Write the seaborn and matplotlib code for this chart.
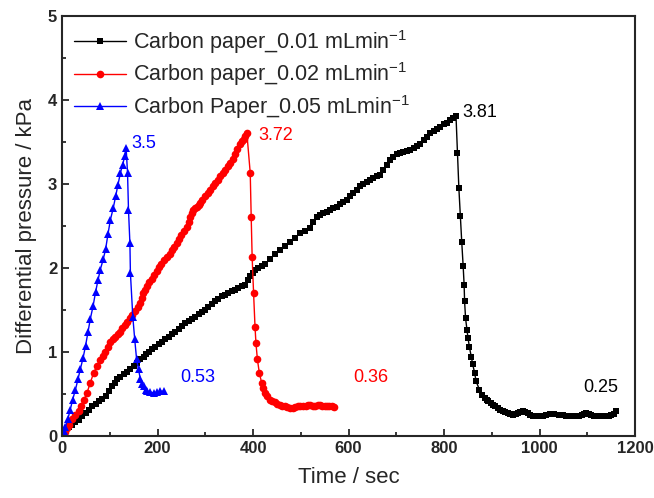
import matplotlib
matplotlib.use("Agg")
import matplotlib.pyplot as plt
import pandas as pd
import seaborn as sns

# Carbon paper 0.01 mL/min
t_001 = [0, 7, 14, 21, 28, 35, 42, 49, 56, 63, 70, 77, 84, 91, 98, 105, 110, 115, 122, 129,
         136, 143, 150, 157, 164, 171, 176, 181, 188, 195, 202, 209, 216, 223, 230, 237,
         244, 251, 258, 265, 272, 279, 286, 293, 300, 306, 313, 320, 327, 334, 341, 348,
         355, 362, 369, 376, 383, 389, 394, 399, 404, 411, 418, 425, 436, 446, 457, 467,
         477, 488, 498, 508, 519, 526, 533, 540, 547, 554, 561, 568, 575, 582, 589, 596,
         603, 610, 617, 624, 631, 638, 645, 652, 659, 666, 673, 680, 687, 694, 701, 708,
         715, 722, 729, 736, 743, 750, 757, 764, 771, 778, 785, 792, 799, 806, 812, 818,
         825, 828, 831, 834, 837, 840, 842, 843, 845, 848, 850, 853, 857, 860, 864, 867,
         874, 880, 885, 889, 893, 898, 902, 907, 912, 918, 923, 928, 934, 939, 944, 950,
         955, 960, 965, 970, 975, 980, 986, 993, 1000, 1007, 1014, 1022, 1030, 1040, 1049,
         1056, 1063, 1070, 1077, 1082, 1088, 1093, 1098, 1103, 1108, 1114, 1119, 1125,
         1130, 1135, 1140, 1145, 1150, 1156, 1161]
p_001 = [0, 0.07, 0.10, 0.13, 0.16, 0.19, 0.23, 0.27, 0.31, 0.35, 0.38, 0.41, 0.44, 0.47,
         0.53, 0.59, 0.63, 0.67, 0.70, 0.73, 0.76, 0.79, 0.83, 0.87, 0.91, 0.94, 0.97, 1.00,
         1.03, 1.06, 1.09, 1.12, 1.15, 1.18, 1.21, 1.24, 1.27, 1.31, 1.34, 1.37, 1.39, 1.42,
         1.45, 1.47, 1.50, 1.53, 1.57, 1.60, 1.63, 1.66, 1.68, 1.70, 1.72, 1.74, 1.76, 1.78,
         1.80, 1.85, 1.90, 1.94, 1.98, 2.00, 2.02, 2.04, 2.11, 2.16, 2.21, 2.26, 2.31, 2.36,
         2.41, 2.44, 2.47, 2.54, 2.61, 2.63, 2.65, 2.67, 2.69, 2.71, 2.73, 2.76, 2.78, 2.81,
         2.85, 2.89, 2.93, 2.97, 3.00, 3.02, 3.05, 3.07, 3.09, 3.11, 3.17, 3.23, 3.29, 3.32,
         3.35, 3.37, 3.38, 3.39, 3.40, 3.43, 3.45, 3.48, 3.52, 3.56, 3.60, 3.63, 3.65, 3.68,
         3.71, 3.73, 3.76, 3.78, 3.81, 3.37, 2.95, 2.62, 2.31, 2.02, 1.80, 1.60, 1.40, 1.26,
         1.17, 1.06, 0.94, 0.85, 0.75, 0.65, 0.55, 0.49, 0.45, 0.43, 0.41, 0.39, 0.37, 0.35,
         0.33, 0.31, 0.29, 0.28, 0.27, 0.26, 0.25, 0.26, 0.27, 0.28, 0.29, 0.28, 0.27, 0.25,
         0.23, 0.23, 0.24, 0.24, 0.25, 0.26, 0.26, 0.25, 0.25, 0.24, 0.24, 0.23, 0.23, 0.24,
         0.25, 0.26, 0.27, 0.26, 0.25, 0.24, 0.23, 0.23, 0.24, 0.23, 0.23, 0.24, 0.25, 0.26,
         0.29]

# Carbon paper 0.02 mL/min
t_002 = [0, 5, 10, 15, 21, 28, 35, 40, 45, 52, 59, 66, 73, 80, 85, 90, 96, 101, 106, 111,
         116, 121, 126, 131, 136, 142, 147, 152, 158, 163, 167, 170, 174, 177, 183, 188,
         193, 198, 203, 208, 214, 219, 225, 230, 235, 240, 245, 250, 256, 261, 265, 268,
         272, 275, 279, 282, 286, 289, 294, 300, 305, 310, 315, 320, 326, 331, 336, 342,
         347, 352, 357, 362, 367, 373, 377, 380, 384, 387, 394, 396, 398, 401, 404, 406,
         409, 413, 418, 421, 425, 430, 435, 440, 445, 450, 456, 461, 466, 472, 477, 483,
         488, 494, 499, 505, 510, 515, 520, 525, 530, 535, 540, 545, 550, 555, 560, 565, 570]
p_002 = [0, 0.05, 0.09, 0.13, 0.20, 0.25, 0.30, 0.36, 0.42, 0.51, 0.63, 0.75, 0.83, 0.90,
         0.95, 1.00, 1.06, 1.12, 1.15, 1.18, 1.21, 1.24, 1.28, 1.32, 1.36, 1.40, 1.44, 1.48,
         1.53, 1.58, 1.64, 1.70, 1.74, 1.78, 1.83, 1.87, 1.92, 1.96, 2.01, 2.05, 2.09, 2.13,
         2.17, 2.21, 2.25, 2.29, 2.34, 2.39, 2.44, 2.49, 2.55, 2.60, 2.65, 2.69, 2.71, 2.73,
         2.75, 2.77, 2.81, 2.85, 2.89, 2.93, 2.97, 3.01, 3.05, 3.09, 3.13, 3.17, 3.21, 3.25,
         3.30, 3.36, 3.42, 3.48, 3.51, 3.54, 3.57, 3.60, 3.13, 2.61, 2.13, 1.70, 1.30, 1.10,
         0.91, 0.75, 0.63, 0.57, 0.51, 0.47, 0.43, 0.41, 0.40, 0.38, 0.37, 0.36, 0.35, 0.34,
         0.33, 0.33, 0.34, 0.35, 0.35, 0.36, 0.36, 0.37, 0.37, 0.36, 0.36, 0.37, 0.37, 0.36,
         0.35, 0.36, 0.36, 0.35, 0.34]

# Carbon paper 0.05 mL/min
t_005 = [0, 4, 7, 12, 17, 22, 28, 33, 38, 44, 49, 54, 59, 65, 70, 75, 80, 86, 91, 96, 101,
         107, 112, 117, 122, 127, 131, 134, 137, 139, 142, 143, 148, 152, 156, 160, 164,
         168, 171, 175, 178, 185, 192, 199, 206, 213]
p_005 = [0, 0.06, 0.11, 0.20, 0.31, 0.43, 0.55, 0.67, 0.79, 0.93, 1.07, 1.23, 1.39, 1.55,
         1.71, 1.85, 1.98, 2.10, 2.22, 2.40, 2.57, 2.71, 2.85, 2.99, 3.13, 3.23, 3.33, 3.43,
         3.13, 2.69, 2.29, 1.94, 1.42, 1.15, 0.91, 0.79, 0.67, 0.62, 0.59, 0.55, 0.53, 0.52,
         0.51, 0.52, 0.53, 0.53]

labels = ["Carbon paper_0.01 mLmin$^{-1}$",
          "Carbon paper_0.02 mLmin$^{-1}$",
          "Carbon Paper_0.05 mLmin$^{-1}$"]
colors = ["black", "red", "blue"]
markers = ["s", "o", "^"]
marker_sizes = [5, 5.5, 5.5]

# value labels: text, x, y
notes_text = ["3.81", "3.72", "3.5", "0.25", "0.36", "0.53"]
notes_x = [838, 410, 144, 1091, 609, 247]
notes_y = [3.85, 3.58, 3.48, 0.57, 0.69, 0.69]
notes_color = ["black", "red", "blue", "black", "red", "blue"]

x_ticks = [0, 200, 400, 600, 800, 1000, 1200]
y_ticks = [0, 1, 2, 3, 4, 5]

sns.set_style("ticks")
plt.rcParams["font.family"] = ["Liberation Sans", "DejaVu Sans"]
plt.rcParams["mathtext.fontset"] = "custom"
plt.rcParams["mathtext.rm"] = "Liberation Sans"
plt.rcParams["mathtext.it"] = "Liberation Sans"

fig = plt.figure(figsize=(6.54, 4.98), dpi=100)
ax = fig.add_axes([0.095, 0.125, 0.876, 0.843])

series = [(t_001, p_001), (t_002, p_002), (t_005, p_005)]
for (t, p), lab, c, m, ms in zip(series, labels, colors, markers, marker_sizes):
    df = pd.DataFrame({"t": t, "p": p})
    sns.lineplot(data=df, x="t", y="p", ax=ax, sort=False, color=c, marker=m,
                 markersize=ms, markeredgewidth=0, linewidth=1, label=lab)

for s, x, y, c in zip(notes_text, notes_x, notes_y, notes_color):
    ax.text(x, y, s, color=c, fontsize=13, ha="left", va="center")

ax.set_xlim(0, 1200)
ax.set_ylim(0, 5)
ax.set_xticks(x_ticks, labels=[str(v) for v in x_ticks], fontweight="bold", fontsize=12)
ax.set_xticks([100, 300, 500, 700, 900, 1100], minor=True)
ax.set_yticks(y_ticks, labels=[str(v) for v in y_ticks], fontweight="bold", fontsize=12)
ax.set_yticks([0.5, 1.5, 2.5, 3.5, 4.5], minor=True)
ax.tick_params(which="both", direction="in", width=1.3)
ax.tick_params(which="major", length=5)
ax.tick_params(which="minor", length=3)
for sp in ax.spines.values():
    sp.set_linewidth(1.5)

ax.set_xlabel("Time / sec", fontsize=16, labelpad=8)
ax.set_ylabel("Differential pressure / kPa", fontsize=16, labelpad=8)

ax.legend(loc="upper left", frameon=False, fontsize=15.5, handlelength=2.4,
          labelspacing=0.22, borderaxespad=0.15, handletextpad=0.33)

fig.savefig("out.png", dpi=100)
